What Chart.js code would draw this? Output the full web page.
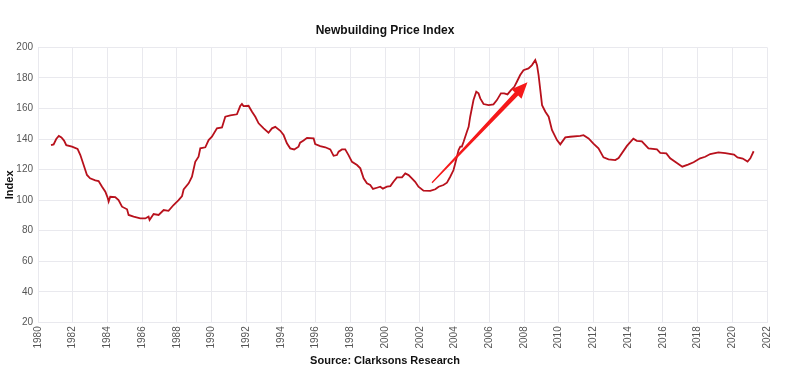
<!DOCTYPE html>
<html>
<head>
<meta charset="utf-8">
<script src="https://cdn.jsdelivr.net/npm/chart.js@4"></script>
<style>
  html, body { margin: 0; padding: 0; background: #fff; }
  #wrap { width: 800px; height: 370px; }
</style>
</head>
<body>
<div id="wrap"><canvas id="chart" width="800" height="370"></canvas></div>
<script>
// Newbuilding price index
const years = [
  1980.75, 1980.9, 1981.05, 1981.2, 1981.35, 1981.5, 1981.63, 1981.96, 1982.28, 1982.44,
  1982.63, 1982.82, 1983.0, 1983.3, 1983.49, 1983.69, 1983.88, 1984.0, 1984.07, 1984.16,
  1984.45, 1984.64, 1984.84, 1985.13, 1985.22, 1985.51, 1985.89, 1986.18, 1986.37, 1986.43,
  1986.66, 1986.95, 1987.24, 1987.52, 1987.81, 1988.1, 1988.3, 1988.39, 1988.68, 1988.87,
  1989.06, 1989.25, 1989.35, 1989.64, 1989.83, 1990.02, 1990.31, 1990.6, 1990.79, 1991.08,
  1991.46, 1991.65, 1991.75, 1991.84, 1992.13, 1992.33, 1992.52, 1992.71, 1993.0, 1993.28,
  1993.48, 1993.67, 1993.96, 1994.15, 1994.34, 1994.53, 1994.76, 1995.01, 1995.1, 1995.3,
  1995.5, 1995.88, 1995.97, 1996.26, 1996.55, 1996.84, 1997.03, 1997.22, 1997.32, 1997.51,
  1997.7, 1997.89, 1998.09, 1998.38, 1998.57, 1998.76, 1998.95, 1999.14, 1999.3, 1999.53,
  1999.72, 1999.87, 2000.1, 2000.3, 2000.48, 2000.68, 2000.97, 2001.16, 2001.35, 2001.54,
  2001.73, 2001.92, 2002.21, 2002.6, 2002.89, 2003.08, 2003.36, 2003.56, 2003.75, 2003.94,
  2004.04, 2004.23, 2004.33, 2004.42, 2004.52, 2004.71, 2004.81, 2004.9, 2005.09, 2005.25,
  2005.38, 2005.48, 2005.67, 2005.96, 2006.24, 2006.44, 2006.67, 2006.86, 2007.05, 2007.25,
  2007.44, 2007.59, 2007.78, 2007.97, 2008.26, 2008.46, 2008.65, 2008.75, 2008.84, 2008.94,
  2009.04, 2009.23, 2009.42, 2009.61, 2009.9, 2010.09, 2010.38, 2010.66, 2011.24, 2011.43,
  2011.72, 2012.0, 2012.29, 2012.58, 2012.87, 2013.26, 2013.45, 2013.93, 2014.3, 2014.5,
  2014.79, 2015.17, 2015.66, 2015.85, 2016.2, 2016.42, 2016.81, 2017.12, 2017.45, 2017.77,
  2018.15, 2018.44, 2018.73, 2019.2, 2019.6, 2020.1, 2020.3, 2020.6, 2020.88, 2021.04,
  2021.23
];
const index = [
  136, 136.5, 140, 142, 141, 139, 136, 135, 133.5, 129.5,
  123, 116.5, 114.3, 113, 112.5, 108.8, 105.5, 102, 99, 102.2,
  102, 100, 95.7, 94, 90.3, 89.2, 88.1, 88, 89.2, 87,
  90.9, 90.3, 93.5, 93, 96.8, 100, 102.7, 107, 111, 115.3,
  125.1, 128.4, 133.9, 134.6, 139.3, 141.5, 147, 147.6, 154.6, 155.5,
  156.2, 161.6, 163, 161.6, 161.8, 157.9, 154.6, 150.3, 147, 144.1,
  147, 148, 145.4, 142.6, 137.2, 133.9, 133.2, 135, 137.6, 139,
  140.8, 140.4, 136.7, 135.4, 134.6, 133.2, 129, 129.5, 131.7, 133.2,
  133.2, 129.5, 125.1, 123, 120.8, 114.3, 111, 109.9, 107.3, 108.1,
  108.8, 107.5, 108.8, 109.2, 112, 114.9, 114.9, 117.5, 116.4, 114.3,
  112, 108.8, 106.2, 106, 107.1, 108.8, 109.9, 111.4, 115.3, 119.7,
  124.1, 132.8, 135, 135, 138.2, 144.8, 148, 154.6, 165.5, 171,
  169.9, 166.6, 162.9, 162.2, 162.7, 165.5, 169.9, 169.9, 169.2, 172,
  174.2, 177.5, 181.9, 185.1, 186.2, 188.4, 191.7, 188.4, 181.9, 172,
  162.2, 157.9, 154.6, 145.9, 139.3, 136.5, 141.1, 141.5, 142, 142.5,
  140.4, 137, 133.9, 128, 126.7, 126.2, 127.6, 135.5, 140.2, 138.8,
  138.5, 133.9, 133.2, 131, 130.6, 127.4, 124.3, 121.9, 123.3, 124.8,
  127.4, 128.4, 130.2, 131.2, 130.8, 129.8, 128, 127.2, 125.3, 127.4,
  132
];

// annotation arrow, in data units (year, index)
const arrowFrom = [2002.7, 111.4];
const arrowTo = [2008.2, 177.1];

const points = years.map((y, i) => ({x: y, y: index[i]}));

// Draw the red arrow
const arrowPlugin = {
  id: 'arrow',
  afterDatasetsDraw(chart) {
    const {ctx, scales} = chart;
    const x0 = scales.x.getPixelForValue(arrowFrom[0]);
    const y0 = scales.y.getPixelForValue(arrowFrom[1]);
    const x1 = scales.x.getPixelForValue(arrowTo[0]);
    const y1 = scales.y.getPixelForValue(arrowTo[1]);
    const ang = Math.atan2(y1 - y0, x1 - x0);
    const len = Math.hypot(x1 - x0, y1 - y0);
    const headLen = 16, headW = 7;
    ctx.save();
    ctx.translate(x0, y0);
    ctx.rotate(ang);
    ctx.fillStyle = '#f5191a';
    ctx.beginPath();
    ctx.moveTo(0, -0.6);
    ctx.lineTo(len - headLen, -2.4);
    ctx.lineTo(len - headLen, -headW);
    ctx.lineTo(len, 0);
    ctx.lineTo(len - headLen, headW);
    ctx.lineTo(len - headLen, 2.4);
    ctx.lineTo(0, 0.6);
    ctx.closePath();
    ctx.fill();
    ctx.restore();
  }
};

const tickFont = {family: 'Liberation Sans, Arial, sans-serif', size: 10};
const gridColor = '#e9e9ee';

new Chart(document.getElementById('chart'), {
  type: 'line',
  data: {
    datasets: [{
      data: points,
      borderColor: '#b8111c',
      borderWidth: 1.8,
      pointRadius: 0,
      tension: 0,
      fill: false
    }]
  },
  options: {
    responsive: false,
    animation: false,
    layout: {padding: {left: 3, right: 33, top: 0, bottom: 0}},
    plugins: {
      legend: {display: false},
      tooltip: {enabled: false},
      title: {
        display: true,
        text: 'Newbuilding Price Index',
        color: '#111',
        font: {family: 'Liberation Sans, Arial, sans-serif', size: 12, weight: 'bold'},
        padding: {top: 23, bottom: 10}
      },
      subtitle: {
        display: true,
        position: 'bottom',
        text: 'Source: Clarksons Research',
        color: '#111',
        font: {family: 'Liberation Sans, Arial, sans-serif', size: 11, weight: 'bold'},
        padding: {top: 4, bottom: 2}
      }
    },
    scales: {
      x: {
        type: 'linear',
        min: 1980,
        max: 2022,
        afterFit(scale) { scale.height = 28.5; },
        ticks: {
          stepSize: 2,
          autoSkip: false,
          minRotation: 90,
          maxRotation: 90,
          padding: 4,
          color: '#555',
          font: tickFont,
          callback: v => String(v)
        },
        grid: {color: gridColor, drawTicks: false},
        border: {color: gridColor}
      },
      y: {
        min: 20,
        max: 200,
        afterFit(scale) { scale.width = 35; },
        ticks: {
          stepSize: 20,
          padding: 5,
          color: '#555',
          font: tickFont
        },
        grid: {color: gridColor, drawTicks: false},
        border: {color: gridColor},
        title: {
          display: true,
          text: 'Index',
          color: '#111',
          padding: 0,
          font: {family: 'Liberation Sans, Arial, sans-serif', size: 11, weight: 'bold'}
        }
      }
    }
  },
  plugins: [arrowPlugin]
});
</script>
</body>
</html>
